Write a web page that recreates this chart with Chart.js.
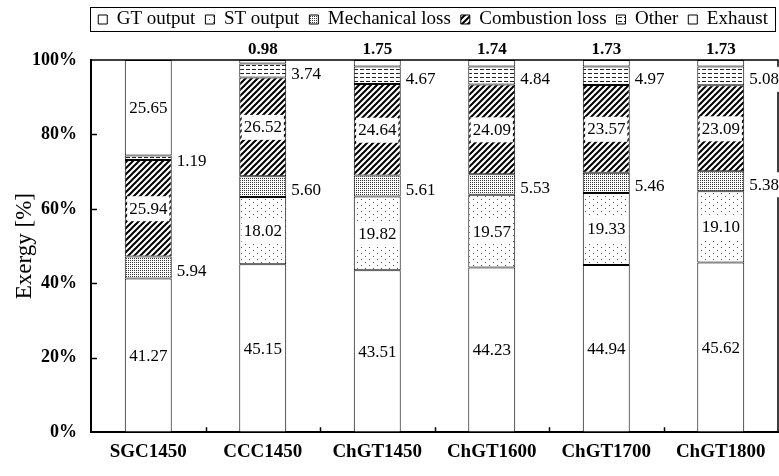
<!DOCTYPE html>
<html>
<head>
<meta charset="utf-8">
<title>Exergy distribution</title>
<script src="https://cdn.jsdelivr.net/npm/chart.js@4.4.0/dist/chart.umd.min.js"></script>
<style>
  html, body { margin: 0; padding: 0; background: #fff; }
</style>
</head>
<body>
<canvas id="exergyChart" width="779" height="476"></canvas>
<script>
// values, in % of fuel exergy
const cases = ["SGC1450", "CCC1450", "ChGT1450", "ChGT1600", "ChGT1700", "ChGT1800"];
const gtOutput = [41.27, 45.15, 43.51, 44.23, 44.94, 45.62];
const stOutput = [0, 18.02, 19.82, 19.57, 19.33, 19.10];
const mechLoss = [5.94, 5.60, 5.61, 5.53, 5.46, 5.38];
const combLoss = [25.94, 26.52, 24.64, 24.09, 23.57, 23.09];
const otherLoss = [1.19, 3.74, 4.67, 4.84, 4.97, 5.08];
const exhaust = [25.65, 0.98, 1.75, 1.74, 1.73, 1.73];
const yTicks = [0, 20, 40, 60, 80, 100];

const FONT = '"Liberation Serif", "Times New Roman", serif';

// small tiles used as fill patterns (black & white print style)
function makePattern(w, h, draw) {
  const c = document.createElement("canvas");
  c.width = w;
  c.height = h;
  const g = c.getContext("2d");
  g.fillStyle = "#fff";
  g.fillRect(0, 0, w, h);
  draw(g);
  return g.createPattern(c, "repeat");
}

const sparseDots = makePattern(8, 6, (g) => {
  g.fillStyle = "#555";
  g.fillRect(1, 1, 1, 1);
  g.fillRect(5, 4, 1, 1);
});
const denseDots = makePattern(2, 2, (g) => {
  g.fillStyle = "#333";
  g.fillRect(0, 0, 1, 1);
});
const hatch = makePattern(6, 6, (g) => {
  g.strokeStyle = "#000";
  g.lineWidth = 2;
  g.beginPath();
  g.moveTo(0, 6); g.lineTo(6, 0);
  g.moveTo(-1, 1); g.lineTo(1, -1);
  g.moveTo(5, 7); g.lineTo(7, 5);
  g.stroke();
});
const dashes = makePattern(6, 4, (g) => {
  g.fillStyle = "#222";
  g.fillRect(0, 1, 4, 1);
});

// data labels: inside, boxed inside, to the right, or above the plot when tiny
const valueLabels = {
  id: "valueLabels",
  afterDatasetsDraw(chart) {
    const ctx = chart.ctx;
    const area = chart.chartArea;
    ctx.save();
    ctx.textBaseline = "middle";
    chart.data.datasets.forEach((ds, i) => {
      const meta = chart.getDatasetMeta(i);
      meta.data.forEach((bar, j) => {
        const v = ds.data[j];
        if (!v) return;
        const text = v.toFixed(2);
        const mid = (bar.y + bar.base) / 2;
        let x = bar.x, y = mid, align = "center", bold = false, box = false;
        if (ds.labelAt === "right") {
          x = bar.x + bar.width / 2 + 5;
          y = mid + 3;
          align = "left";
          box = true;
        } else if (ds.labelAt === "box") {
          box = true;
        } else if (ds.labelAt === "top" && v < 10) {
          y = area.top - 11;
          bold = true;
        }
        ctx.font = (bold ? "bold " : "") + "17px " + FONT;
        const w = ctx.measureText(text).width;
        if (box) {
          ctx.fillStyle = "#fff";
          const bx = align === "left" ? x - 2 : x - w / 2 - 2;
          ctx.fillRect(bx, y - 12, w + 4, 25);
        }
        ctx.fillStyle = "#000";
        ctx.textAlign = align;
        ctx.fillText(text, x, y + 1);
      });
    });
    ctx.restore();
  },
};

// top/right frame lines and the small inward tick marks
const frame = {
  id: "frame",
  beforeDatasetsDraw(chart) {
    const ctx = chart.ctx;
    const a = chart.chartArea;
    const y = chart.scales.y;
    ctx.save();
    ctx.strokeStyle = "#000";
    ctx.lineWidth = 1.5;
    ctx.beginPath();
    ctx.moveTo(a.left, a.top);
    ctx.lineTo(a.right, a.top);
    ctx.lineTo(a.right, a.bottom);
    ctx.stroke();
    ctx.beginPath();
    yTicks.slice(1, -1).forEach((t) => {
      const py = Math.round(y.getPixelForValue(t)) + 0.5;
      ctx.moveTo(a.left, py);
      ctx.lineTo(a.left + 6, py);
    });
    const step = (a.right - a.left) / cases.length;
    for (let i = 1; i < cases.length; i++) {
      const px = Math.round(a.left + i * step) + 0.5;
      ctx.moveTo(px, a.bottom);
      ctx.lineTo(px, a.bottom - 5);
    }
    ctx.stroke();
    ctx.restore();
  },
};

// legend: leave room under it and put a box round the entries
const legendBox = {
  id: "legendBox",
  beforeLayout(chart) {
    const lg = chart.legend;
    if (lg && !lg._patched) {
      const fit = lg.fit;
      lg.fit = function () {
        fit.call(this);
        this.height = 60;
      };
      lg._patched = true;
    }
  },
  afterDraw(chart) {
    const hb = chart.legend.legendHitBoxes;
    if (!hb || !hb.length) return;
    const first = hb[0];
    const last = hb[hb.length - 1];
    const ctx = chart.ctx;
    ctx.save();
    ctx.strokeStyle = "#000";
    ctx.lineWidth = 1;
    const left = Math.round(first.left - 8) + 0.5;
    const right = Math.round(last.left + last.width + 7) + 0.5;
    const top = Math.round(first.top - 3) + 0.5;
    const bottom = Math.round(first.top + first.height + 2) + 0.5;
    ctx.strokeRect(left, top, right - left, bottom - top);
    ctx.restore();
  },
};

const barStyle = {
  borderColor: "#000",
  borderWidth: 1,
  borderSkipped: false,
  barPercentage: 0.41,
  categoryPercentage: 1.0,
};

const ctx = document.getElementById("exergyChart").getContext("2d");
const exergyChart = new Chart(ctx, {
  type: "bar",
  data: {
    labels: cases,
    datasets: [
      { label: "GT output", data: gtOutput, backgroundColor: "#fff", labelAt: "inside", ...barStyle },
      { label: "ST output", data: stOutput, backgroundColor: sparseDots, labelAt: "box", ...barStyle },
      { label: "Mechanical loss", data: mechLoss, backgroundColor: denseDots, labelAt: "right", ...barStyle },
      { label: "Combustion loss", data: combLoss, backgroundColor: hatch, labelAt: "box", ...barStyle },
      { label: "Other", data: otherLoss, backgroundColor: dashes, labelAt: "right", ...barStyle },
      { label: "Exhaust", data: exhaust, backgroundColor: "#fff", labelAt: "top", ...barStyle },
    ],
  },
  options: {
    responsive: false,
    animation: false,
    devicePixelRatio: 1,
    layout: { padding: { top: 0, right: 1, bottom: 5, left: 0 } },
    scales: {
      x: {
        stacked: true,
        grid: { display: false, drawTicks: false },
        border: { display: true, color: "#000", width: 2 },
        ticks: {
          color: "#000",
          padding: 8,
          maxRotation: 0,
          autoSkip: false,
          font: { family: FONT, size: 19, weight: "bold" },
        },
      },
      y: {
        stacked: true,
        min: 0,
        max: 100,
        afterFit(scale) {
          scale.width = 91;
        },
        afterBuildTicks(scale) {
          scale.ticks = yTicks.map((v) => ({ value: v }));
        },
        grid: { display: false, drawTicks: false },
        border: { display: true, color: "#000", width: 2 },
        ticks: {
          color: "#000",
          padding: 14,
          callback: (v) => v + "%",
          font: { family: FONT, size: 18, weight: "bold" },
        },
        title: {
          display: true,
          text: "Exergy [%]",
          color: "#000",
          padding: { top: 11, bottom: 0 },
          font: { family: FONT, size: 23 },
        },
      },
    },
    plugins: {
      legend: {
        position: "top",
        align: "end",
        labels: {
          boxWidth: 9,
          boxHeight: 9,
          padding: 10,
          color: "#000",
          font: { family: FONT, size: 19 },
        },
      },
      tooltip: { enabled: false },
    },
  },
  plugins: [frame, valueLabels, legendBox],
});
</script>
</body>
</html>
